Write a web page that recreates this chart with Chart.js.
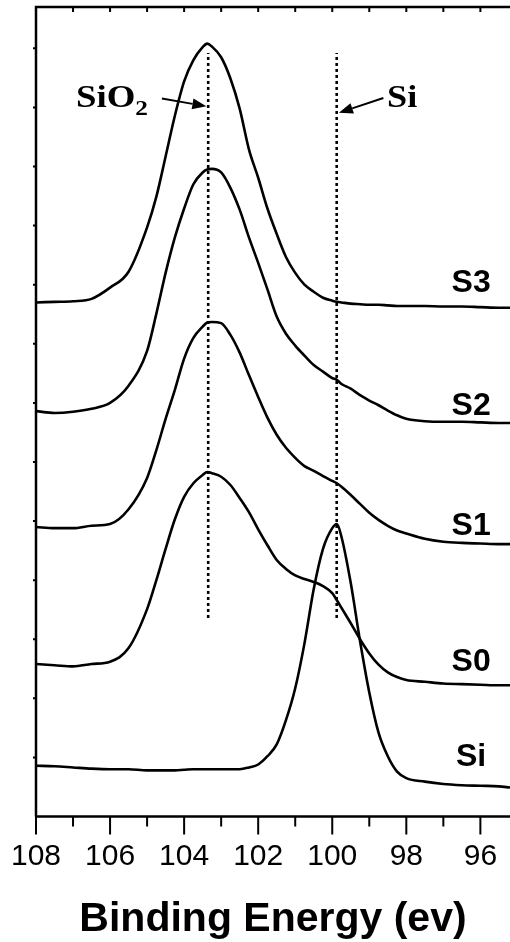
<!DOCTYPE html>
<html>
<head>
<meta charset="utf-8">
<script src="https://cdn.jsdelivr.net/npm/chart.js@4.4.1/dist/chart.umd.min.js"></script>
<style>
  html, body { margin: 0; padding: 0; background: #fff; }
  canvas { display: block; }
</style>
</head>
<body>
<canvas id="xps" width="510" height="942"></canvas>
<script>
// Binding energy grid (eV) shared by every spectrum
const energy = [108, 107.5, 107, 106.5, 106, 105.5, 105, 104.75, 104.5, 104.25, 104, 103.75, 103.5, 103.375, 103.25, 103,
  102.75, 102.5, 102.25, 102, 101.75, 101.5, 101.25, 101, 100.75, 100.5, 100.25, 100, 99.875, 99.75, 99.5, 99.25, 99,
  98.75, 98.5, 98.25, 98, 97.5, 97, 96.5, 96, 95.5, 95.2];

// Si 2p intensity (a.u.), stacked with vertical offsets
const spectrumS3 = [87.0, 87.1, 87.2, 87.6, 89.5, 92.2, 99.7, 104.9, 111.7, 118.6, 124.4, 128.0, 130.2, 130.8, 130.3, 128.5,
  124.9, 119.8, 112.9, 108.1, 102.9, 98.6, 94.7, 92.0, 90.0, 88.8, 87.8, 87.3, 87.1, 87.0, 86.8, 86.7, 86.6,
  86.6, 86.5, 86.4, 86.4, 86.4, 86.3, 86.3, 86.2, 86.1, 86.1];
const spectrumS2 = [68.6, 68.3, 68.5, 69.0, 70.0, 72.9, 78.8, 85.1, 92.0, 98.0, 102.9, 107.0, 109.0, 109.5, 109.6, 109.0,
  106.4, 102.7, 98.0, 93.7, 89.2, 84.6, 81.7, 79.7, 78.0, 76.4, 75.3, 74.2, 73.9, 73.2, 72.4, 71.3, 70.4,
  69.6, 68.7, 67.9, 67.3, 66.9, 66.8, 66.8, 66.7, 66.6, 66.6];
const spectrumS1 = [49.0, 48.8, 48.8, 49.2, 49.5, 52.0, 57.3, 62.0, 67.3, 72.2, 77.5, 81.0, 82.9, 83.6, 83.7, 83.5,
  81.5, 78.5, 74.7, 71.0, 67.5, 64.6, 62.4, 60.7, 59.3, 58.5, 57.6, 56.8, 56.4, 55.8, 54.4, 52.9, 51.4,
  50.2, 49.2, 48.4, 47.9, 47.0, 46.5, 46.3, 46.2, 46.1, 46.1];
const spectrumS0 = [25.8, 25.6, 25.4, 25.8, 26.2, 28.5, 35.1, 40.0, 45.3, 50.3, 54.1, 56.4, 57.8, 58.3, 58.1, 57.5,
  56.1, 53.9, 51.5, 48.6, 45.9, 43.4, 41.9, 40.8, 40.2, 39.7, 39.0, 37.8, 36.6, 35.3, 32.7, 30.0, 27.6,
  25.7, 24.4, 23.6, 23.1, 22.8, 22.5, 22.4, 22.3, 22.2, 22.2];
const spectrumSi = [8.6, 8.5, 8.3, 8.1, 8.0, 8.0, 7.8, 7.8, 7.8, 7.8, 7.9, 8.0, 8.0, 8.0, 8.0, 8.0,
  8.0, 8.0, 8.3, 8.8, 10.2, 12.2, 16.3, 21.7, 29.3, 38.5, 45.3, 48.8, 49.5, 47.3, 39.5, 29.7, 21.0,
  14.2, 10.2, 7.6, 6.5, 5.9, 5.5, 5.3, 5.2, 5.1, 4.9];

// Sample names and the intensity level each name sits at
const sampleNames = ['S3', 'S2', 'S1', 'S0', 'Si'];
const sampleLabelLevels = [90.2, 69.5, 49.2, 26.1, 10.0];
const sampleLabelEnergy = 96.25;

// Reference binding energies of the two chemical states (eV)
const peakSiO2 = 103.35;
const peakSi = 99.88;
const markerSpan = [33.6, 129.2];

// Axis ticks (eV): labelled every 2 eV, minor marks every 1 eV
const tickEnergies = [96, 97, 98, 99, 100, 101, 102, 103, 104, 105, 106, 107, 108];

const SANS = '"Liberation Sans", Arial, Helvetica, sans-serif';
const SERIF = '"Liberation Serif", "Times New Roman", serif';

const toPoints = vals => vals.map((v, i) => ({ x: energy[i], y: v }));
const spectra = [spectrumS3, spectrumS2, spectrumS1, spectrumS0, spectrumSi];

const curveSets = spectra.map((vals, i) => ({
  label: sampleNames[i],
  data: toPoints(vals),
  borderColor: '#000',
  borderWidth: 2.6,
  pointRadius: 0,
  fill: false,
  cubicInterpolationMode: 'monotone'
}));

const markerSets = [peakSiO2, peakSi].map(e => ({
  label: 'ref ' + e,
  data: [{ x: e, y: markerSpan[0] }, { x: e, y: markerSpan[1] }],
  borderColor: '#000',
  borderWidth: 2.6,
  borderDash: [3, 3],
  pointRadius: 0,
  fill: false,
  tension: 0
}));

// Frame, inward top ticks, bottom major/minor ticks and small left ticks
const framePlugin = {
  id: 'frame',
  afterDraw(chart) {
    const { ctx, chartArea: a, scales: { x, y } } = chart;
    ctx.save();
    ctx.strokeStyle = '#000';
    ctx.lineWidth = 2.5;
    ctx.beginPath();
    ctx.moveTo(a.left, a.bottom);
    ctx.lineTo(a.left, a.top);
    ctx.lineTo(a.right + 2, a.top);
    ctx.moveTo(a.left - 1, a.bottom);
    ctx.lineTo(a.right + 2, a.bottom);
    ctx.stroke();

    ctx.lineWidth = 2;
    ctx.beginPath();
    tickEnergies.forEach(e => {
      const px = x.getPixelForValue(e);
      const major = e % 2 === 0;
      ctx.moveTo(px, a.bottom);
      ctx.lineTo(px, a.bottom + (major ? 18 : 10));
      ctx.moveTo(px, a.top);
      ctx.lineTo(px, a.top + 5);
    });
    for (let v = 10; v < y.max; v += 10) {
      const py = y.getPixelForValue(v);
      ctx.moveTo(a.left - 3, py);
      ctx.lineTo(a.left, py);
    }
    ctx.stroke();
    ctx.restore();
  }
};

function arrow(ctx, x1, y1, x2, y2) {
  const ang = Math.atan2(y2 - y1, x2 - x1);
  const len = 14, half = 5.5;
  const bx = x2 - len * Math.cos(ang), by = y2 - len * Math.sin(ang);
  ctx.beginPath();
  ctx.moveTo(x1, y1);
  ctx.lineTo(bx, by);
  ctx.stroke();
  ctx.beginPath();
  ctx.moveTo(x2, y2);
  ctx.lineTo(bx + half * Math.sin(ang), by - half * Math.cos(ang));
  ctx.lineTo(bx - half * Math.sin(ang), by + half * Math.cos(ang));
  ctx.closePath();
  ctx.fill();
}

// Serif label drawn slightly widened
function wideText(ctx, text, px, py, size, stretch) {
  ctx.save();
  ctx.translate(px, py);
  ctx.scale(stretch, 1);
  ctx.font = 'bold ' + size + 'px ' + SERIF;
  ctx.fillText(text, 0, 0);
  const w = ctx.measureText(text).width * stretch;
  ctx.restore();
  return w;
}

// Sample names and chemical-state annotations
const notesPlugin = {
  id: 'notes',
  afterDatasetsDraw(chart) {
    const { ctx, scales: { x, y } } = chart;
    ctx.save();
    ctx.fillStyle = '#000';
    ctx.strokeStyle = '#000';

    ctx.font = 'bold 32px ' + SANS;
    ctx.textAlign = 'center';
    ctx.textBaseline = 'middle';
    sampleNames.forEach((name, i) => {
      ctx.fillText(name, x.getPixelForValue(sampleLabelEnergy), y.getPixelForValue(sampleLabelLevels[i]));
    });

    ctx.textAlign = 'left';
    ctx.textBaseline = 'alphabetic';
    const sx = x.getPixelForValue(106.92), sy = y.getPixelForValue(120.0);
    const w = wideText(ctx, 'SiO', sx, sy, 32, 1.15);
    wideText(ctx, '2', sx + w, sy + 8, 22, 1.15);
    wideText(ctx, 'Si', x.getPixelForValue(98.52), y.getPixelForValue(120.0), 32, 1.13);

    ctx.lineWidth = 2;
    arrow(ctx, x.getPixelForValue(104.6), y.getPixelForValue(121.5), x.getPixelForValue(103.4), y.getPixelForValue(120.2));
    arrow(ctx, x.getPixelForValue(98.62), y.getPixelForValue(121.6), x.getPixelForValue(99.82), y.getPixelForValue(119.1));
    ctx.restore();
  }
};

new Chart(document.getElementById('xps'), {
  type: 'line',
  data: { datasets: [...curveSets, ...markerSets] },
  options: {
    responsive: false,
    animation: false,
    devicePixelRatio: 1,
    layout: { padding: { left: 36, top: 7, right: 0, bottom: 0 } },
    plugins: { legend: { display: false }, tooltip: { enabled: false } },
    scales: {
      x: {
        type: 'linear',
        reverse: true,
        min: 95.2,
        max: 108,
        afterBuildTicks: scale => { scale.ticks = tickEnergies.map(v => ({ value: v })); },
        grid: { display: false, drawTicks: false },
        border: { display: false },
        ticks: {
          autoSkip: false,
          maxRotation: 0,
          padding: 22,
          color: '#000',
          font: { family: SANS, size: 30 },
          callback: v => (v % 2 === 0 ? String(v) : '')
        },
        title: {
          display: true,
          text: 'Binding Energy (ev)',
          color: '#000',
          font: { family: SANS, size: 41, weight: 'bold', lineHeight: 1.11 },
          padding: { top: 0, bottom: 0 }
        }
      },
      y: { display: false, min: 0, max: 137 }
    }
  },
  plugins: [framePlugin, notesPlugin]
});
</script>
</body>
</html>
